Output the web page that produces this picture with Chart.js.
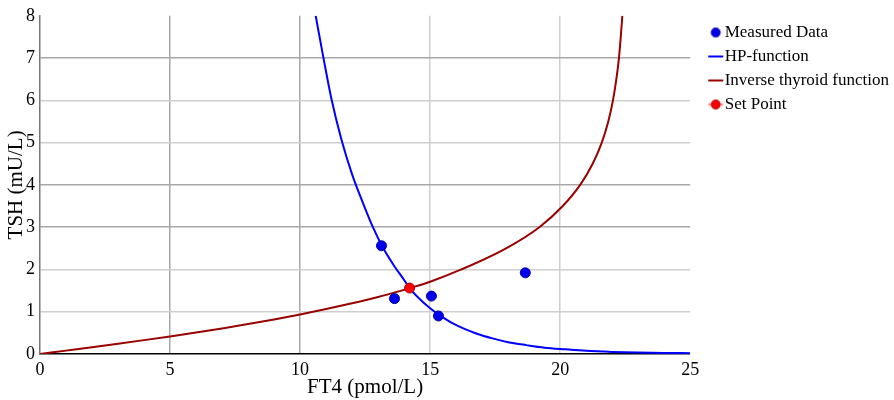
<!DOCTYPE html>
<html>
<head>
<meta charset="utf-8">
<script src="https://cdn.jsdelivr.net/npm/chart.js@4.4.1/dist/chart.umd.min.js"></script>
<style>
  html, body { margin: 0; padding: 0; background: #fff; }
</style>
</head>
<body>
<canvas id="thyroidChart" width="894" height="400"></canvas>
<script>
// measured FT4 / TSH pairs
const measuredFT4 = [13.13, 13.63, 15.05, 15.32, 18.66];
const measuredTSH = [2.56, 1.31, 1.37, 0.90, 1.92];

// HP-function
const hpFT4 = [10.6, 10.9, 11.2, 11.6, 12.0, 12.4, 12.8, 13.2, 13.6, 14.0, 14.21, 14.6, 15.0, 15.4, 15.8, 16.3, 16.8, 17.4, 18.0, 18.7, 19.4, 20.2, 21.0, 22.0, 23.0, 24.0, 25.0];
const hpTSH = [8.0, 7.0, 6.05, 5.05, 4.25, 3.6, 3.0, 2.5, 2.1, 1.75, 1.56, 1.3, 1.08, 0.9, 0.75, 0.6, 0.48, 0.37, 0.28, 0.21, 0.15, 0.11, 0.075, 0.05, 0.035, 0.025, 0.02];

// inverse thyroid function
const invFT4 = [0, 1, 2, 3, 4, 5, 6, 7, 8, 9, 10, 11, 12, 13, 13.9, 14.21, 15, 16.2, 17.92, 19.2, 20.1, 20.77, 21.25, 21.6, 21.85, 22.03, 22.16, 22.26, 22.33, 22.39];
const invTSH = [0, 0.08, 0.16, 0.243, 0.328, 0.416, 0.508, 0.605, 0.708, 0.818, 0.936, 1.063, 1.2, 1.348, 1.5, 1.557, 1.71, 2.0, 2.5, 3.0, 3.5, 4.0, 4.5, 5.0, 5.5, 6.0, 6.5, 7.0, 7.5, 8.0];

const setPointFT4 = [14.21];
const setPointTSH = [1.56];

const legendLabels = ['Measured Data', 'HP-function', 'Inverse thyroid function', 'Set Point'];
const xTicks = [0, 5, 10, 15, 20, 25];
const yTicks = [0, 1, 2, 3, 4, 5, 6, 7, 8];

function pts(xs, ys) {
  return xs.map((x, i) => ({x: x, y: ys[i]}));
}

// little legend symbols, drawn off-centre so they sit close to the text
function symbol(kind, color, edge) {
  const c = document.createElement('canvas');
  c.width = 30; c.height = 14;
  const g = c.getContext('2d');
  if (kind === 'line' || kind === 'both') {
    g.strokeStyle = kind === 'both' ? '#ff9999' : color;
    g.lineWidth = 2;
    g.beginPath(); g.moveTo(14, 7); g.lineTo(29, 7); g.stroke();
  }
  if (kind === 'dot' || kind === 'both') {
    g.fillStyle = color;
    g.strokeStyle = edge;
    g.lineWidth = 1;
    g.beginPath(); g.arc(21.5, 7, 4.5, 0, Math.PI * 2); g.fill(); g.stroke();
  }
  return c;
}
const legendSymbols = [
  symbol('dot', '#0000ee', '#00009a'),
  symbol('line', '#0000ff'),
  symbol('line', '#990000'),
  symbol('both', '#ff0000', '#aa0000')
];

const darkX = [5, 10];
const darkY = [3, 4, 7];

// nudge the legend a bit
const legendShift = {
  id: 'legendShift',
  afterLayout(chart) {
    if (chart.legend) {
      chart.legend.top += 5;
      chart.legend.left += 5;
    }
  }
};

Chart.defaults.font.family = '"Liberation Serif", "Times New Roman", serif';
Chart.defaults.color = '#000';

const ctx = document.getElementById('thyroidChart');
new Chart(ctx, {
  type: 'scatter',
  data: {
    datasets: [
      {
        label: legendLabels[0],
        data: pts(measuredFT4, measuredTSH),
        backgroundColor: '#0000ee',
        borderColor: '#00009a',
        borderWidth: 1,
        pointRadius: 5,
        order: 0
      },
      {
        label: legendLabels[1],
        data: pts(hpFT4, hpTSH),
        showLine: true,
        borderColor: '#0000ff',
        borderWidth: 2,
        pointRadius: 0,
        cubicInterpolationMode: 'monotone',
        order: 2
      },
      {
        label: legendLabels[2],
        data: pts(invFT4, invTSH),
        showLine: true,
        borderColor: '#990000',
        borderWidth: 2,
        pointRadius: 0,
        cubicInterpolationMode: 'monotone',
        order: 2
      },
      {
        label: legendLabels[3],
        data: pts(setPointFT4, setPointTSH),
        backgroundColor: '#ff0000',
        borderColor: '#aa0000',
        borderWidth: 1,
        pointRadius: 5,
        order: -1
      }
    ]
  },
  plugins: [legendShift],
  options: {
    responsive: false,
    animation: false,
    layout: { padding: { top: 12, right: 0, left: 4, bottom: 0 } },
    plugins: {
      tooltip: { enabled: false },
      legend: {
        position: 'right',
        align: 'start',
        labels: {
          usePointStyle: true,
          boxHeight: 14,
          boxWidth: 14,
          padding: 7,
          font: { size: 17 },
          generateLabels: (chart) => legendLabels.map((t, i) => ({
            text: t,
            pointStyle: legendSymbols[i],
            datasetIndex: i,
            hidden: false,
            lineWidth: 0,
            fontColor: '#000'
          }))
        }
      }
    },
    scales: {
      x: {
        type: 'linear',
        min: 0,
        max: 25,
        afterBuildTicks: (axis) => { axis.ticks = xTicks.map(v => ({value: v})); },
        afterFit: (axis) => { axis.height = 46; },
        ticks: { font: { size: 18 }, padding: 5 },
        grid: {
          color: (c) => (c.tick && darkX.includes(c.tick.value)) ? '#a8a8a8' : '#cfcfcf',
          lineWidth: (c) => (c.tick && (c.tick.value === 0 || c.tick.value === 25)) ? 0 : 1.5,
          drawTicks: false
        },
        border: { color: '#000', width: 1.5 },
        title: { display: true, text: 'FT4 (pmol/L)', font: { size: 21 }, padding: { top: 0, bottom: 0 } }
      },
      y: {
        type: 'linear',
        min: 0,
        max: 8,
        afterBuildTicks: (axis) => { axis.ticks = yTicks.map(v => ({value: v})); },
        afterFit: (axis) => { axis.width = 36; },
        ticks: { font: { size: 18 }, padding: 5 },
        grid: {
          color: (c) => (c.tick && darkY.includes(c.tick.value)) ? '#a8a8a8' : '#cfcfcf',
          lineWidth: (c) => (c.tick && (c.tick.value === 0 || c.tick.value === 8)) ? 0 : 1.5,
          drawTicks: false
        },
        border: { color: '#777', width: 1.5 },
        title: { display: true, text: 'TSH (mU/L)', font: { size: 21 }, padding: { top: 0, bottom: 0 } }
      }
    }
  }
});
</script>
</body>
</html>
